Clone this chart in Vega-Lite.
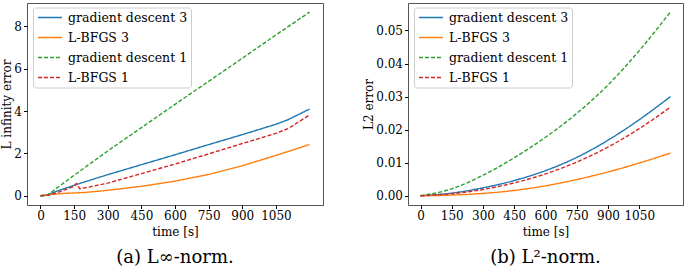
{
  "$schema": "https://vega.github.io/schema/vega-lite/v6.json",
  "padding": {"left": 0, "top": 2, "right": 2, "bottom": 0},
  "background": "white",
  "spacing": 38,
  "config": {
    "font": "DejaVu Serif",
    "view": {"stroke": "#555", "strokeWidth": 1},
    "axis": {
      "labelFont": "DejaVu Serif", "labelFontSize": 12, "labelColor": "#000",
      "titleFont": "DejaVu Serif", "titleFontSize": 12, "titleFontWeight": "normal", "titleColor": "#000",
      "tickColor": "#000", "tickSize": 3.5, "labelPadding": 2, "domain": false, "grid": false, "titlePadding": 5
    },
    "legend": {
      "orient": "none", "legendX": 6, "legendY": 4.5,
      "title": null, "fillColor": "white", "strokeColor": "#ccc", "cornerRadius": 3, "padding": 3,
      "labelFont": "DejaVu Serif", "labelFontSize": 12.5, "labelColor": "#000",
      "symbolType": "M-2,0H2", "symbolSize": 144, "symbolStrokeWidth": 1.5, "symbolOffset": 7,
      "labelOffset": 11, "rowPadding": 6
    },
    "title": {"font": "DejaVu Serif", "fontSize": 18, "fontWeight": "normal", "color": "#000"}
  },
  "datasets": {
    "linf": [
      {"series": "gradient descent 3", "t": 0, "v": 0},
      {"series": "gradient descent 3", "t": 30, "v": 0.04},
      {"series": "gradient descent 3", "t": 60, "v": 0.17},
      {"series": "gradient descent 3", "t": 115, "v": 0.37},
      {"series": "gradient descent 3", "t": 165, "v": 0.55},
      {"series": "gradient descent 3", "t": 300, "v": 1.0},
      {"series": "gradient descent 3", "t": 450, "v": 1.47},
      {"series": "gradient descent 3", "t": 600, "v": 1.94},
      {"series": "gradient descent 3", "t": 750, "v": 2.42},
      {"series": "gradient descent 3", "t": 900, "v": 2.89},
      {"series": "gradient descent 3", "t": 1050, "v": 3.38},
      {"series": "gradient descent 3", "t": 1105, "v": 3.6},
      {"series": "gradient descent 3", "t": 1200, "v": 4.1},
      {"series": "L-BFGS 3", "t": 0, "v": 0},
      {"series": "L-BFGS 3", "t": 50, "v": 0.07},
      {"series": "L-BFGS 3", "t": 100, "v": 0.11},
      {"series": "L-BFGS 3", "t": 200, "v": 0.16},
      {"series": "L-BFGS 3", "t": 300, "v": 0.26},
      {"series": "L-BFGS 3", "t": 450, "v": 0.45},
      {"series": "L-BFGS 3", "t": 600, "v": 0.69},
      {"series": "L-BFGS 3", "t": 750, "v": 1.01},
      {"series": "L-BFGS 3", "t": 900, "v": 1.42},
      {"series": "L-BFGS 3", "t": 1050, "v": 1.91},
      {"series": "L-BFGS 3", "t": 1200, "v": 2.42},
      {"series": "gradient descent 1", "t": 0, "v": 0},
      {"series": "gradient descent 1", "t": 30, "v": 0.02},
      {"series": "gradient descent 1", "t": 75, "v": 0.38},
      {"series": "gradient descent 1", "t": 150, "v": 0.97},
      {"series": "gradient descent 1", "t": 300, "v": 2.12},
      {"series": "gradient descent 1", "t": 450, "v": 3.22},
      {"series": "gradient descent 1", "t": 600, "v": 4.32},
      {"series": "gradient descent 1", "t": 750, "v": 5.41},
      {"series": "gradient descent 1", "t": 900, "v": 6.5},
      {"series": "gradient descent 1", "t": 1050, "v": 7.6},
      {"series": "gradient descent 1", "t": 1200, "v": 8.68},
      {"series": "L-BFGS 1", "t": 0, "v": 0},
      {"series": "L-BFGS 1", "t": 40, "v": 0.03},
      {"series": "L-BFGS 1", "t": 100, "v": 0.24},
      {"series": "L-BFGS 1", "t": 150, "v": 0.45},
      {"series": "L-BFGS 1", "t": 160, "v": 0.58},
      {"series": "L-BFGS 1", "t": 175, "v": 0.34},
      {"series": "L-BFGS 1", "t": 200, "v": 0.38},
      {"series": "L-BFGS 1", "t": 300, "v": 0.6},
      {"series": "L-BFGS 1", "t": 450, "v": 1.05},
      {"series": "L-BFGS 1", "t": 600, "v": 1.5},
      {"series": "L-BFGS 1", "t": 750, "v": 1.98},
      {"series": "L-BFGS 1", "t": 900, "v": 2.47},
      {"series": "L-BFGS 1", "t": 1050, "v": 2.95},
      {"series": "L-BFGS 1", "t": 1105, "v": 3.18},
      {"series": "L-BFGS 1", "t": 1200, "v": 3.82}
    ],
    "l2": [
      {"series": "gradient descent 3", "t": 0, "v": 0},
      {"series": "gradient descent 3", "t": 150, "v": 0.0008},
      {"series": "gradient descent 3", "t": 300, "v": 0.0024},
      {"series": "gradient descent 3", "t": 450, "v": 0.0046},
      {"series": "gradient descent 3", "t": 600, "v": 0.0076},
      {"series": "gradient descent 3", "t": 750, "v": 0.0116},
      {"series": "gradient descent 3", "t": 900, "v": 0.0168},
      {"series": "gradient descent 3", "t": 1050, "v": 0.0230},
      {"series": "gradient descent 3", "t": 1200, "v": 0.0300},
      {"series": "L-BFGS 3", "t": 0, "v": 0},
      {"series": "L-BFGS 3", "t": 150, "v": 0.0002},
      {"series": "L-BFGS 3", "t": 300, "v": 0.0007},
      {"series": "L-BFGS 3", "t": 450, "v": 0.0016},
      {"series": "L-BFGS 3", "t": 600, "v": 0.0030},
      {"series": "L-BFGS 3", "t": 750, "v": 0.0049},
      {"series": "L-BFGS 3", "t": 900, "v": 0.0072},
      {"series": "L-BFGS 3", "t": 1050, "v": 0.0099},
      {"series": "L-BFGS 3", "t": 1200, "v": 0.0129},
      {"series": "gradient descent 1", "t": 0, "v": 0},
      {"series": "gradient descent 1", "t": 150, "v": 0.0021},
      {"series": "gradient descent 1", "t": 300, "v": 0.0062},
      {"series": "gradient descent 1", "t": 450, "v": 0.0115},
      {"series": "gradient descent 1", "t": 600, "v": 0.0177},
      {"series": "gradient descent 1", "t": 750, "v": 0.0249},
      {"series": "gradient descent 1", "t": 900, "v": 0.0335},
      {"series": "gradient descent 1", "t": 1050, "v": 0.0439},
      {"series": "gradient descent 1", "t": 1200, "v": 0.0556},
      {"series": "L-BFGS 1", "t": 0, "v": 0},
      {"series": "L-BFGS 1", "t": 150, "v": 0.0006},
      {"series": "L-BFGS 1", "t": 300, "v": 0.0019},
      {"series": "L-BFGS 1", "t": 450, "v": 0.0039},
      {"series": "L-BFGS 1", "t": 600, "v": 0.0066},
      {"series": "L-BFGS 1", "t": 750, "v": 0.0102},
      {"series": "L-BFGS 1", "t": 900, "v": 0.0147},
      {"series": "L-BFGS 1", "t": 1050, "v": 0.0203},
      {"series": "L-BFGS 1", "t": 1200, "v": 0.0268}
    ]
  },
  "hconcat": [
    {
      "width": 296,
      "height": 202,
      "title": {"text": "(a) L∞-norm.", "orient": "bottom", "anchor": "middle", "frame": "group", "offset": 11},
      "data": {"name": "linf"},
      "mark": {"type": "line", "strokeWidth": 1.4, "clip": true},
      "encoding": {
        "x": {"field": "t", "type": "quantitative", "title": "time [s]",
              "scale": {"domain": [-60, 1260], "nice": false, "zero": false},
              "axis": {"values": [0, 150, 300, 450, 600, 750, 900, 1050], "format": "d"}},
        "y": {"field": "v", "type": "quantitative", "title": "L infinity error",
              "scale": {"domain": [-0.434, 9.11], "nice": false, "zero": false},
              "axis": {"values": [0, 2, 4, 6, 8], "format": "d", "titlePadding": 0}},
        "color": {"field": "series", "type": "nominal",
                  "scale": {"domain": ["gradient descent 3", "L-BFGS 3", "gradient descent 1", "L-BFGS 1"],
                            "range": ["#1f77b4", "#ff7f0e", "#2ca02c", "#d62728"]}},
        "strokeDash": {"field": "series", "type": "nominal",
                       "scale": {"domain": ["gradient descent 3", "L-BFGS 3", "gradient descent 1", "L-BFGS 1"],
                                 "range": [[1, 0], [1, 0], [4, 2], [4, 2]]}}
      }
    },
    {
      "width": 275,
      "height": 202,
      "title": {"text": "(b) L²-norm.", "orient": "bottom", "anchor": "middle", "frame": "group", "offset": 11},
      "data": {"name": "l2"},
      "mark": {"type": "line", "strokeWidth": 1.4, "interpolate": "monotone", "clip": true},
      "encoding": {
        "x": {"field": "t", "type": "quantitative", "title": "time [s]",
              "scale": {"domain": [-60, 1260], "nice": false, "zero": false},
              "axis": {"values": [0, 150, 300, 450, 600, 750, 900, 1050], "format": "d"}},
        "y": {"field": "v", "type": "quantitative", "title": "L2 error",
              "scale": {"domain": [-0.0028, 0.0583], "nice": false, "zero": false},
              "axis": {"values": [0, 0.01, 0.02, 0.03, 0.04, 0.05], "format": ".2f", "titlePadding": 0}},
        "color": {"field": "series", "type": "nominal",
                  "scale": {"domain": ["gradient descent 3", "L-BFGS 3", "gradient descent 1", "L-BFGS 1"],
                            "range": ["#1f77b4", "#ff7f0e", "#2ca02c", "#d62728"]}},
        "strokeDash": {"field": "series", "type": "nominal",
                       "scale": {"domain": ["gradient descent 3", "L-BFGS 3", "gradient descent 1", "L-BFGS 1"],
                                 "range": [[1, 0], [1, 0], [4, 2], [4, 2]]}}
      }
    }
  ],
  "resolve": {"scale": {"x": "independent", "y": "independent", "color": "independent", "strokeDash": "independent"}, "legend": {"color": "independent", "strokeDash": "independent"}}
}
